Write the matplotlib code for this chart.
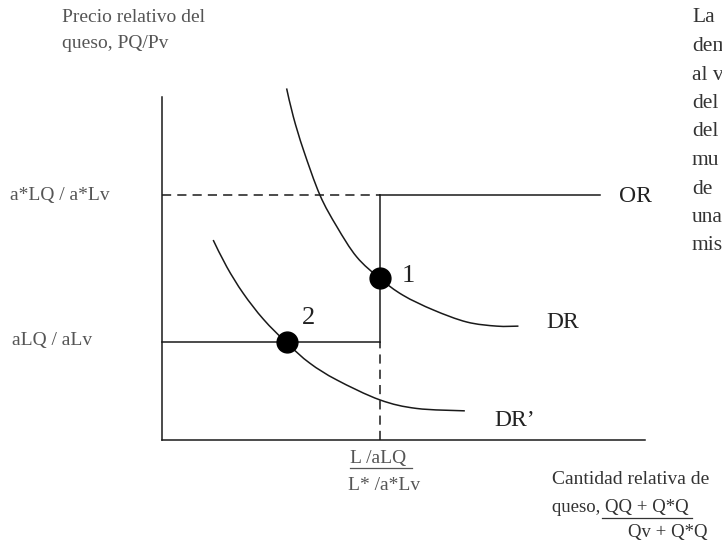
import matplotlib
matplotlib.use("Agg")
import matplotlib.pyplot as plt
from matplotlib.lines import Line2D
from matplotlib.path import Path
from matplotlib.patches import PathPatch

# ---- data (conceptual units: x = relative quantity, y = relative price) ----
p_high = 7.14          # a*LQ / a*Lv
p_low = 2.86           # aLQ / aLv
q_max = 4.51           # L/aLQ = L*/a*Lv
or_end = 9.07

dr_x = [2.58, 2.72, 2.93, 3.27, 3.62, 4.03, 4.51, 4.99, 5.62, 6.31, 6.93, 7.38]
dr_y = [10.25, 9.42, 8.45, 7.14, 6.22, 5.34, 4.71, 4.22, 3.79, 3.44, 3.32, 3.32]

drp_x = [1.06, 1.34, 1.68, 2.10, 2.59, 3.06, 3.62, 4.51, 5.27, 6.27]
drp_y = [5.83, 5.05, 4.28, 3.52, 2.82, 2.24, 1.75, 1.17, 0.92, 0.85]

eq1 = (4.51, 4.71)
eq2 = (2.59, 2.86)

# ---- figure ----
W, H = 722, 545
fig = plt.figure(figsize=(W / 100, H / 100), dpi=100)
ax = fig.add_axes([0, 0, 1, 1])
ux, uy = 48.3, 34.3        # pixels per unit
x0, y0 = 162, 440          # origin in pixels
ax.set_xlim(-x0 / ux, (W - x0) / ux)
ax.set_ylim(-(H - y0) / uy, y0 / uy)
ax.axis("off")

lc = "#1a1a1a"
lw = 1.1
dash = (0, (6, 4))

# axes
ax.plot([0, 0], [0, 10], color=lc, lw=lw)
ax.plot([0, 10], [0, 0], color=lc, lw=lw)

# supply OR
ax.plot([0, q_max], [p_high, p_high], color=lc, lw=lw, linestyle=dash)
ax.plot([q_max, or_end], [p_high, p_high], color=lc, lw=lw)
ax.plot([q_max, q_max], [p_low, p_high], color=lc, lw=lw)
ax.plot([0, q_max], [p_low, p_low], color=lc, lw=lw)
ax.plot([q_max, q_max], [0, p_low], color=lc, lw=lw, linestyle=dash)


def smooth_path(xs, ys):
    """Bezier path passing through the given points (Catmull-Rom handles)."""
    pts = list(zip(xs, ys))
    verts = [pts[0]]
    codes = [Path.MOVETO]
    n = len(pts)
    for i in range(n - 1):
        p0 = pts[i - 1] if i > 0 else pts[i]
        p1 = pts[i]
        p2 = pts[i + 1]
        p3 = pts[i + 2] if i + 2 < n else pts[i + 1]
        c1 = (p1[0] + (p2[0] - p0[0]) / 6, p1[1] + (p2[1] - p0[1]) / 6)
        c2 = (p2[0] - (p3[0] - p1[0]) / 6, p2[1] - (p3[1] - p1[1]) / 6)
        verts += [c1, c2, p2]
        codes += [Path.CURVE4] * 3
    return Path(verts, codes)


for xs, ys in [(dr_x, dr_y), (drp_x, drp_y)]:
    ax.add_patch(PathPatch(smooth_path(xs, ys), facecolor="none",
                           edgecolor=lc, lw=lw))

# equilibrium points
ax.plot(*eq1, "o", color="black", ms=15, zorder=5)
ax.plot(*eq2, "o", color="black", ms=15, zorder=5)

serif = ["Liberation Serif", "DejaVu Serif"]


def px(x, y):
    return x / W, 1 - y / H


def txt(x, y, s, size, color="#222222", ha="left"):
    fig.text(*px(x, y), s, fontsize=size, family=serif, color=color,
             ha=ha, va="center")


grey = "#555555"
txt(62, 18, "Precio relativo del", 14, grey)
txt(62, 44, "queso, PQ/Pv", 14, grey)
txt(10, 195, "a*LQ / a*Lv", 14, grey)
txt(12, 341, "aLQ / aLv", 14, grey)

txt(619, 196, "OR", 17)
txt(546, 322, "DR", 17)
txt(494, 420, "DR’", 17)
txt(402, 276, "1", 19)
txt(302, 318, "2", 19)

txt(350, 459, "L /aLQ", 14, grey)
fig.add_artist(Line2D([350 / W, 412 / W], [1 - 468 / H, 1 - 468 / H],
                      color=grey, lw=0.9))
txt(348, 485, "L* /a*Lv", 14, grey)

txt(552, 480, "Cantidad relativa de", 14, "#333333")
txt(552, 508, "queso, QQ + Q*Q", 13.5, "#333333")
fig.add_artist(Line2D([602 / W, 692 / W], [1 - 518 / H, 1 - 518 / H],
                      color="#333333", lw=0.9))
txt(628, 533, "Qv + Q*Q", 13.5, "#333333")

para = ["La", "dem", "al v", "del", "del", "mu", "de", "una", "mis"]
for i, s in enumerate(para):
    txt(692, 18 + i * 28.5, s, 15.5, "#333333")

fig.savefig("out.png", dpi=100)
